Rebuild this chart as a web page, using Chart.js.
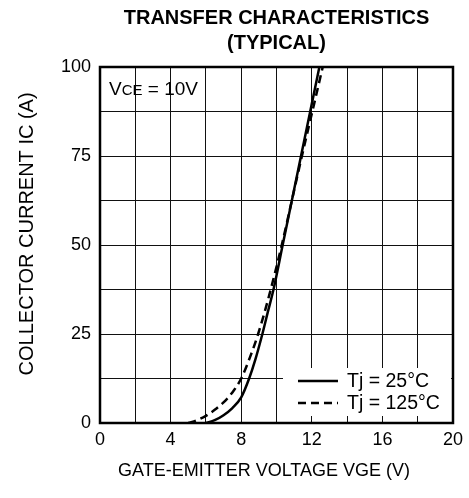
<!DOCTYPE html>
<html>
<head>
<meta charset="utf-8">
<script src="https://cdn.jsdelivr.net/npm/chart.js@4.4.0/dist/chart.umd.min.js"></script>
<style>
html,body{margin:0;padding:0;background:#fff;}
#caja{width:469px;height:498px;}
</style>
</head>
<body>
<div id="caja"><canvas id="grafTransfer" width="469" height="498"></canvas></div>
<script>

/* ===== DATOS ===== */

const vge25 = [6.0, 6.5, 7.0, 7.5, 8.0, 8.45, 8.8, 9.2, 9.5, 9.83, 10.35, 10.87, 11.39, 11.91, 12.43];
const ic25  = [0, 0.8, 2.2, 4.2, 7.2, 12.5, 17.8, 25, 31, 37.5, 50, 62.5, 75, 87.5, 100];

const vge125 = [5.0, 5.5, 6.0, 6.5, 7.0, 7.5, 8.0, 8.5, 8.96, 9.54, 10.3, 10.87, 11.44, 12.03, 12.62];
const ic125  = [0, 0.8, 2.0, 3.7, 5.8, 8.6, 12.5, 18.5, 25, 35, 50, 62.5, 75, 87.5, 100];

const etiquetasX = [0, 4, 8, 12, 16, 20];
const etiquetasY = [0, 25, 50, 75, 100];
const series = ["Tj = 25°C", "Tj = 125°C"];

const FUENTE = "'Liberation Sans', Arial, Helvetica, sans-serif";

Chart.defaults.font.family = FUENTE;
Chart.defaults.color = "#000";

function puntos(xs, ys){
    return xs.map((x, i) => ({x: x, y: ys[i]}));
}

/* ===== MARCO, LEYENDA Y NOTA ===== */

const extras = {

    id: "extras",

    afterDatasetsDraw(chart){

        const ctx = chart.ctx;
        const a = chart.chartArea;

        ctx.save();

        // nota VCE
        ctx.fillStyle = "#000";
        ctx.textBaseline = "alphabetic";
        let x = a.left + 9;
        const yb = a.top + 28;
        ctx.font = "19px " + FUENTE;
        ctx.fillText("V", x, yb);
        x += ctx.measureText("V").width;
        ctx.font = "15px " + FUENTE;
        ctx.fillText("CE", x, yb);
        x += ctx.measureText("CE").width;
        ctx.font = "19px " + FUENTE;
        ctx.fillText(" = 10V", x, yb);

        // leyenda
        const lx = a.right - 170;
        const ly = a.bottom - 55;
        ctx.fillStyle = "#fff";
        ctx.fillRect(lx, ly, 168, 48);

        chart.data.datasets.forEach((ds, i) => {

            const yy = ly + 13 + i * 22;

            ctx.strokeStyle = "#000";
            ctx.lineWidth = 2.5;
            ctx.setLineDash(ds.borderDash || []);
            ctx.beginPath();
            ctx.moveTo(lx + 15, yy);
            ctx.lineTo(lx + 55, yy);
            ctx.stroke();
            ctx.setLineDash([]);

            ctx.fillStyle = "#000";
            ctx.font = "19.5px " + FUENTE;
            ctx.textBaseline = "middle";
            ctx.fillText(ds.label, lx + 64, yy + 1);

        });

        ctx.restore();

    },

    afterDraw(chart){

        const ctx = chart.ctx;
        const a = chart.chartArea;

        ctx.save();
        ctx.strokeStyle = "#000";
        ctx.lineWidth = 2.5;
        ctx.strokeRect(a.left, a.top, a.right - a.left, a.bottom - a.top);
        ctx.restore();

    }

};

/* ===== GRAFICA ===== */

new Chart(document.getElementById("grafTransfer"), {

    type: "scatter",

    data: {
        datasets: [
            {
                label: series[0],
                data: puntos(vge25, ic25),
                showLine: true,
                borderColor: "#000",
                borderWidth: 2.5,
                pointRadius: 0,
                cubicInterpolationMode: "monotone"
            },
            {
                label: series[1],
                data: puntos(vge125, ic125),
                showLine: true,
                borderColor: "#000",
                borderWidth: 2.5,
                borderDash: [8, 5],
                pointRadius: 0,
                cubicInterpolationMode: "monotone"
            }
        ]
    },

    options: {

        responsive: false,
        animation: false,
        devicePixelRatio: 1,

        layout: {
            padding: {left: 0, right: 14, top: 0, bottom: 0}
        },

        plugins: {

            legend: {display: false},
            tooltip: {enabled: false},

            title: {
                display: true,
                fullSize: false,
                text: ["TRANSFER CHARACTERISTICS", "(TYPICAL)"],
                color: "#000",
                font: {size: 20, weight: "bold", lineHeight: 1.25},
                padding: {top: 6, bottom: 11}
            }

        },

        scales: {

            x: {
                type: "linear",
                min: 0,
                max: 20,
                afterFit(scale){ scale.height = 75; },
                ticks: {
                    stepSize: 2,
                    padding: 6,
                    maxRotation: 0,
                    font: {size: 18},
                    callback: v => etiquetasX.includes(v) ? v : ""
                },
                grid: {color: "#111", lineWidth: 1, drawTicks: false},
                border: {display: false},
                title: {
                    display: true,
                    // espacios finales: el texto va algo a la izquierda como en el original
                    text: "GATE-EMITTER VOLTAGE VGE (V)     ",
                    font: {size: 18},
                    padding: {top: 0, bottom: 16}
                }
            },

            y: {
                type: "linear",
                min: 0,
                max: 100,
                afterFit(scale){ scale.width = 100; },
                ticks: {
                    stepSize: 12.5,
                    padding: 9,
                    font: {size: 18},
                    callback: v => etiquetasY.includes(v) ? v : ""
                },
                grid: {color: "#111", lineWidth: 1, drawTicks: false},
                border: {display: false},
                title: {
                    display: true,
                    text: "    COLLECTOR CURRENT IC (A)",
                    font: {size: 20},
                    padding: {top: 15, bottom: 0}
                }
            }

        }

    },

    plugins: [extras]

});

</script>
</body>
</html>
